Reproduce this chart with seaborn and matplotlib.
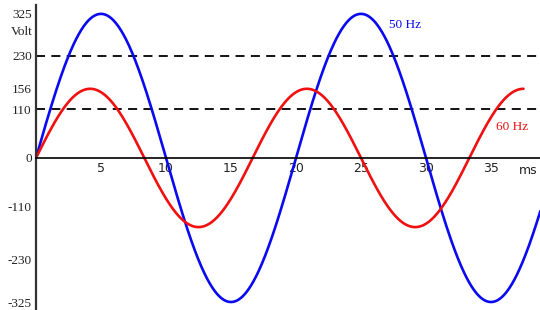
import numpy as np
import pandas as pd
import matplotlib
matplotlib.use("Agg")
import matplotlib.pyplot as plt
import seaborn as sns

# --- data ---
series_names = ["50 Hz", "60 Hz"]
frequencies_hz = [50, 60]
amplitudes_v = [325, 156]
end_ms = [38.8, 37.5]
ref_levels_v = [230, 110]
x_ticks = [5, 10, 15, 20, 25, 30, 35]
y_ticks = [325, 230, 156, 110, 0, -110, -156, -230, -325]
y_tick_labels = ["325", "230", "156", "110", "0", "-110", "", "-230", "-325"]

rows = []
for name, f, a, e in zip(series_names, frequencies_hz, amplitudes_v, end_ms):
    t = np.linspace(0, e, 800)
    v = a * np.sin(2 * np.pi * f * t / 1000.0)
    rows.append(pd.DataFrame({"t": t, "v": v, "series": name}))
df = pd.concat(rows, ignore_index=True)

sns.set_theme(style="white")
plt.rcParams["font.family"] = ["DejaVu Sans"]

W, H = 540, 310
fig = plt.figure(figsize=(W / 100, H / 100), dpi=100)
ax = fig.add_axes([36 / W, 0, 504 / W, 1 - 5 / H])

palette = {"50 Hz": "#0a0af0", "60 Hz": "#f01010"}
sns.lineplot(data=df, x="t", y="v", hue="series", palette=palette,
             linewidth=1.9, legend=False, ax=ax, sort=False, estimator=None)

for lvl in ref_levels_v:
    ax.axhline(lvl, color="black", linewidth=1.3, dashes=(5, 3.5), zorder=1)

ax.set_xlim(0, 504 / 13)
ax.set_ylim(-343, 345)

ax.spines["top"].set_visible(False)
ax.spines["right"].set_visible(False)
ax.spines["bottom"].set_position(("data", 0))
ax.spines["bottom"].set_color("black")
ax.spines["bottom"].set_linewidth(1.2)
ax.spines["left"].set_color("#333333")
ax.spines["left"].set_linewidth(1.6)

ax.set_xticks(x_ticks)
ax.set_xticklabels([str(x) for x in x_ticks], fontsize=9, color="#222222")
ax.set_yticks(y_ticks)
ax.set_yticklabels(y_tick_labels, fontsize=9.5, family=["Liberation Serif"], color="#222222")
ax.tick_params(axis="x", direction="in", length=6, width=1.2, pad=3, color="black")
ax.tick_params(axis="y", direction="in", length=6, width=1.2, pad=3, color="black")
ax.set_xlabel("")
ax.set_ylabel("")
ax.grid(False)

fig.text(22 / W, 1 - 32 / H, "Volt", ha="center", va="center", fontsize=9.5,
         family=["Liberation Serif"], color="#222222")
fig.text(528 / W, 1 - 170 / H, "ms", ha="center", va="center", fontsize=9, color="#222222")
fig.text(405 / W, 1 - 25 / H, "50 Hz", ha="center", va="center", fontsize=9.5,
         family=["Liberation Serif"], color="#0a0af0")
fig.text(512 / W, 1 - 127 / H, "60 Hz", ha="center", va="center", fontsize=9.5,
         family=["Liberation Serif"], color="#f01010")

fig.savefig("out.png", dpi=100)
